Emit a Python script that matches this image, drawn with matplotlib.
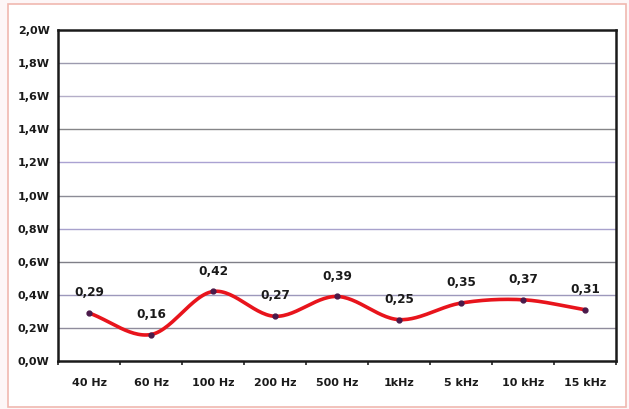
import numpy as np
import matplotlib
matplotlib.use("Agg")
import matplotlib.pyplot as plt
from matplotlib.patches import Rectangle

categories = ["40 Hz", "60 Hz", "100 Hz", "200 Hz", "500 Hz", "1kHz", "5 kHz", "10 kHz", "15 kHz"]
values = [0.29, 0.16, 0.42, 0.27, 0.39, 0.25, 0.35, 0.37, 0.31]
labels = ["0,29", "0,16", "0,42", "0,27", "0,39", "0,25", "0,35", "0,37", "0,31"]
yticks = [0.0, 0.2, 0.4, 0.6, 0.8, 1.0, 1.2, 1.4, 1.6, 1.8, 2.0]
ytick_labels = ["0,0W", "0,2W", "0,4W", "0,6W", "0,8W", "1,0W", "1,2W", "1,4W", "1,6W", "1,8W", "2,0W"]
grid_colors = ["#8f8c9c", "#9d98bc", "#7f7f88", "#a8a2cc", "#8c8c96", "#aaa2d2",
               "#858588", "#b4aec8", "#9c9aae"]


def smooth(xs, ys, n=30):
    # Catmull-Rom style smoothing (like a spreadsheet "smoothed line")
    xs = np.asarray(xs, float)
    ys = np.asarray(ys, float)
    px = np.concatenate([[2 * xs[0] - xs[1]], xs, [2 * xs[-1] - xs[-2]]])
    py = np.concatenate([[2 * ys[0] - ys[1]], ys, [2 * ys[-1] - ys[-2]]])
    ox, oy = [], []
    t = np.linspace(0, 1, n)
    for i in range(1, len(px) - 2):
        for P, out in ((px, ox), (py, oy)):
            p0, p1, p2, p3 = P[i - 1], P[i], P[i + 1], P[i + 2]
            m1 = (p2 - p0) / 2
            m2 = (p3 - p1) / 2
            h00 = 2 * t**3 - 3 * t**2 + 1
            h10 = t**3 - 2 * t**2 + t
            h01 = -2 * t**3 + 3 * t**2
            h11 = t**3 - t**2
            out.extend(h00 * p1 + h10 * m1 + h01 * p2 + h11 * m2)
    return np.array(ox), np.array(oy)


fig = plt.figure(figsize=(6.29, 4.09), dpi=100)
fig.patch.set_facecolor("#fdf6f7")
frame = Rectangle((8 / 629, 2 / 409), 618 / 629, 403 / 409,
                  transform=fig.transFigure, facecolor="white",
                  edgecolor="#f0b8b0", linewidth=1.2, zorder=-10)
fig.add_artist(frame)

ax = fig.add_axes([58 / 629, 1 - 361 / 409, 558 / 629, 331 / 409])
ax.set_zorder(5)
ax.set_facecolor("white")
x = np.arange(len(categories))

for yv, c in zip(yticks[1:-1], grid_colors):
    ax.axhline(yv, color=c, linewidth=1.0, zorder=1)

sx, sy = smooth(x, values)
ax.plot(sx, sy, color="#e8141c", linewidth=2.6, zorder=3, solid_capstyle="round")
ax.plot(x, values, "o", color="#4a1a4a", markersize=3.5, zorder=4)

for xi, v, lab in zip(x, values, labels):
    ax.annotate(lab, (xi, v), xytext=(0, 10), textcoords="offset points",
                ha="center", va="bottom", fontsize=8.7, fontweight="bold", color="#1a1a1a")

ax.set_xlim(-0.5, len(categories) - 0.5)
ax.set_ylim(0, 2.0)
ax.set_yticks(yticks)
ax.set_yticklabels(ytick_labels, fontsize=8, fontweight="bold", color="#1a1a1a")
ax.set_xticks(x)
ax.set_xticklabels(categories, fontsize=8, fontweight="bold", color="#1a1a1a")
ax.tick_params(axis="x", length=0, pad=12)
ax.tick_params(axis="y", length=0, pad=6)
ax.set_xticks(np.arange(-0.5, len(categories), 1), minor=True)
ax.tick_params(axis="x", which="minor", length=3, width=1.2, color="#222222")

for s in ax.spines.values():
    s.set_color("#1a1a1a")
    s.set_linewidth(1.8)

fig.savefig("out.png", dpi=100)
